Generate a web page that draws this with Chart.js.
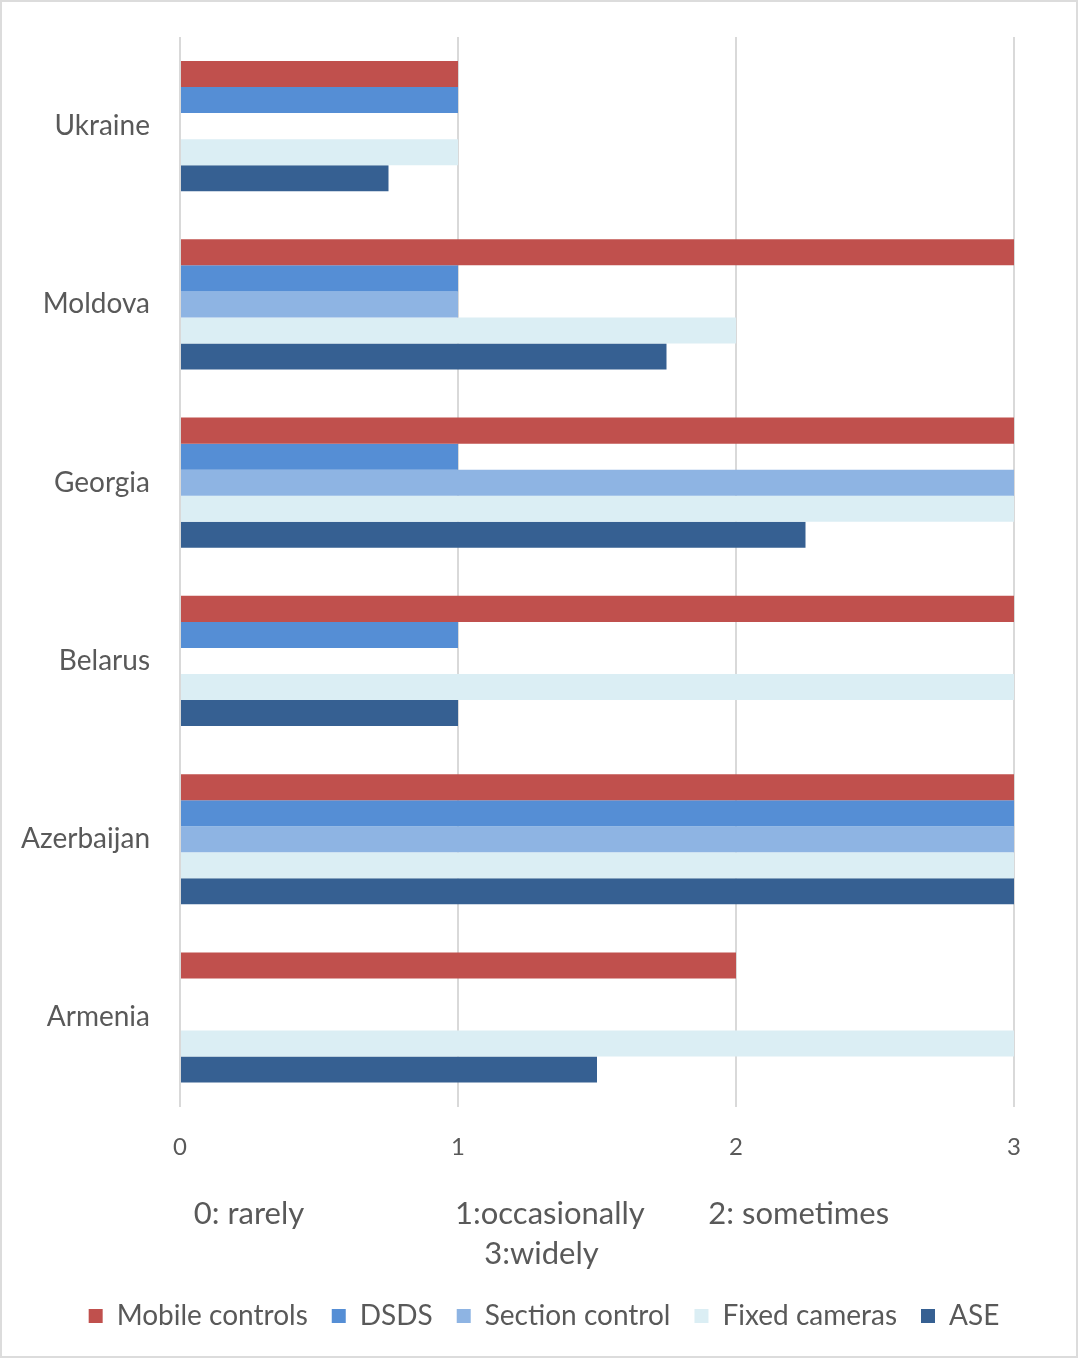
<!DOCTYPE html>
<html>
<head>
<meta charset="utf-8">
<script src="https://cdn.jsdelivr.net/npm/chart.js@4"></script>
<style>
html,body{margin:0;padding:0;background:#fff;}
#wrap{position:absolute;left:0;top:0;width:1074px;height:1354px;border:2px solid #dcdcdc;background:#fff;}
#c{display:block;}
</style>
</head>
<body>
<div id="wrap"><canvas id="c" width="1074" height="1354"></canvas></div>
<script>
const categories = ["Ukraine", "Moldova", "Georgia", "Belarus", "Azerbaijan", "Armenia"];
const seriesNames = ["Mobile controls", "DSDS", "Section control", "Fixed cameras", "ASE"];
const mobileControls = [1, 3, 3, 3, 3, 2];
const dsds = [1, 1, 1, 1, 3, 0];
const sectionControl = [0, 1, 3, 0, 3, 0];
const fixedCameras = [1, 2, 3, 3, 3, 3];
const ase = [0.75, 1.75, 2.25, 1, 3, 1.5];
const xTicks = [0, 1, 2, 3];
const axisTitle = ["0: rarely                   1:occasionally        2: sometimes", "3:widely"];

const colors = ["#C0504D", "#558ED5", "#8EB4E3", "#DBEEF4", "#366092"];
const values = [mobileControls, dsds, sectionControl, fixedCameras, ase];
const FONT = "Lato, 'Open Sans', sans-serif";
const TXT = "#595959";
const PAD = "              ";

const legendShift = {
  id: 'legendShift',
  afterLayout(chart) {
    const lg = chart.legend;
    if (lg) { lg.left += 36; lg.right += 36; }
  }
};

new Chart(document.getElementById('c'), {
  type: 'bar',
  data: {
    labels: categories,
    datasets: seriesNames.map((n, i) => ({
      label: n,
      data: values[i],
      backgroundColor: colors[i],
      borderWidth: 0,
      categoryPercentage: 0.73,
      barPercentage: 1.0
    }))
  },
  plugins: [legendShift],
  options: {
    indexAxis: 'y',
    responsive: false,
    animation: false,
    layout: { padding: { left: 0, right: 62, top: 35, bottom: 16 } },
    plugins: {
      tooltip: { enabled: false },
      legend: {
        position: 'bottom',
        labels: {
          color: TXT,
          font: { family: FONT, size: 28 },
          boxWidth: 14,
          boxHeight: 14,
          padding: 24
        }
      }
    },
    scales: {
      x: {
        min: 0, max: 3,
        afterBuildTicks: (s) => { s.ticks = xTicks.map(v => ({ value: v })); },
        grid: { color: "#D9D9D9", lineWidth: 2, drawTicks: false },
        border: { display: false },
        ticks: { color: TXT, font: { family: FONT, size: 24 }, padding: 26 },
        title: {
          display: true,
          text: axisTitle.map(t => t + PAD),
          color: TXT,
          font: { family: FONT, size: 31, lineHeight: 1.3 },
          padding: { top: 6, bottom: 4 }
        }
      },
      y: {
        afterFit: (s) => { s.width = 178; s.paddingTop = 0; s.paddingBottom = 0; },
        grid: { display: false },
        border: { display: false },
        ticks: { color: TXT, font: { family: FONT, size: 28 }, padding: 22 }
      }
    }
  }
});
</script>
</body>
</html>
